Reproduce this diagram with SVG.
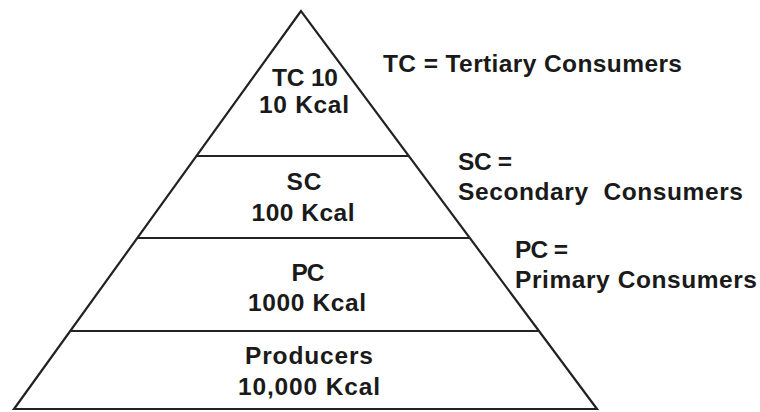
<svg xmlns="http://www.w3.org/2000/svg" width="760" height="412" viewBox="0 0 760 412">
<style>
.ln{stroke:#222;stroke-width:2.2;fill:none;stroke-linejoin:miter}
text{font-family:"Liberation Sans",Arial,sans-serif;font-weight:bold;font-size:24.5px;fill:#1a1a1a}
.c{text-anchor:middle}
</style>
<rect width="760" height="412" fill="#fff"/>
<g id="pyramid">
<polygon class="ln" points="301,11 14,409 597,409"/>
</g>
<g id="connectors">
<line class="ln" x1="196" y1="156" x2="409" y2="156"/>
<line class="ln" x1="137" y1="238" x2="469" y2="238"/>
<line class="ln" x1="70" y1="331" x2="538" y2="331"/>
</g>
<g id="tc">
<text class="c" x="305" y="86" textLength="66" lengthAdjust="spacing">TC 10</text>
<text class="c" x="304" y="113" textLength="90" lengthAdjust="spacing">10 Kcal</text>
</g>
<g id="sc">
<text class="c" x="304" y="190" textLength="35" lengthAdjust="spacing">SC</text>
<text class="c" x="303" y="221" textLength="103" lengthAdjust="spacing">100 Kcal</text>
</g>
<g id="pc">
<text class="c" x="308" y="281" textLength="33" lengthAdjust="spacing">PC</text>
<text class="c" x="307" y="311" textLength="118" lengthAdjust="spacing">1000 Kcal</text>
</g>
<g id="producers">
<text class="c" x="309" y="364" textLength="128" lengthAdjust="spacing">Producers</text>
<text class="c" x="309" y="395" textLength="142" lengthAdjust="spacing">10,000 Kcal</text>
</g>
<g id="legend-tc">
<text x="383" y="72" textLength="299" lengthAdjust="spacing">TC = Tertiary Consumers</text>
</g>
<g id="legend-sc">
<text x="458" y="170" textLength="54" lengthAdjust="spacing">SC =</text>
<text x="458" y="200" textLength="285" lengthAdjust="spacing" xml:space="preserve">Secondary  Consumers</text>
</g>
<g id="legend-pc">
<text x="515" y="258" textLength="53" lengthAdjust="spacing">PC =</text>
<text x="515" y="288" textLength="242" lengthAdjust="spacing">Primary Consumers</text>
</g>
</svg>
